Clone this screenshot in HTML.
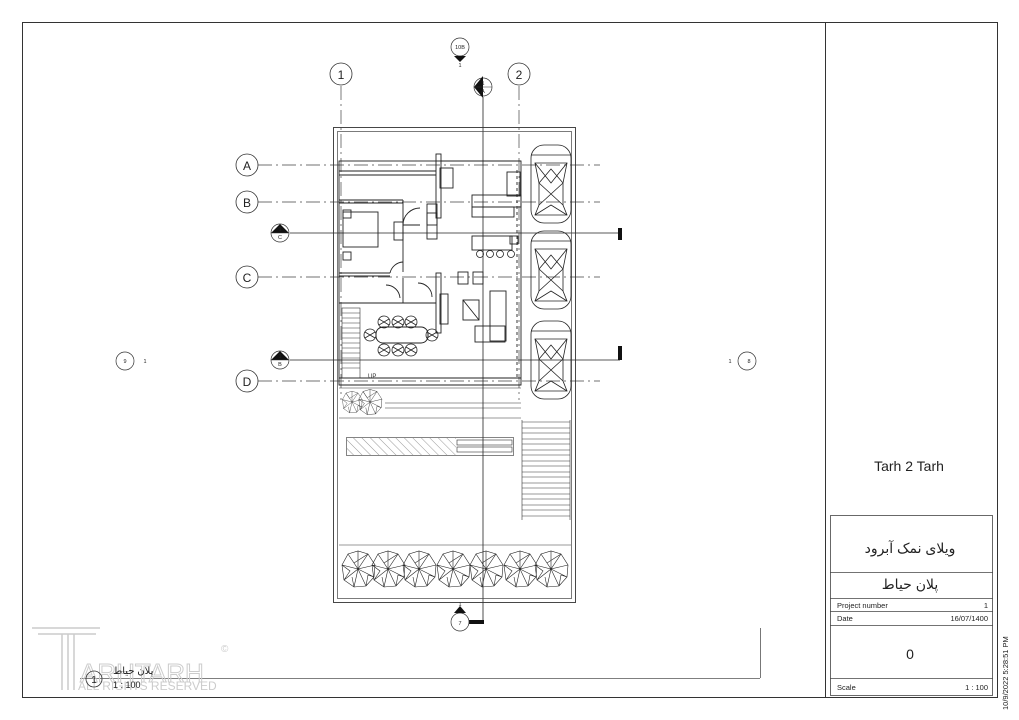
<!DOCTYPE html>
<html><head><meta charset="utf-8"><style>
html,body{margin:0;padding:0;background:#fff}
svg{display:block}
text{font-family:"Liberation Sans","DejaVu Sans",sans-serif}
</style></head><body>
<svg width="1019" height="720" viewBox="0 0 1019 720" xmlns="http://www.w3.org/2000/svg">
<defs>
<pattern id="hatch" width="6" height="6" patternUnits="userSpaceOnUse" patternTransform="rotate(-45)"><line x1="0" y1="0" x2="0" y2="6" stroke="#555" stroke-width="0.6"/></pattern>
<g id="car" fill="none" stroke="#222" stroke-width="0.8">
<rect x="0" y="0" width="40" height="78" rx="13"/>
<path d="M4 18 L36 18 L32 38 L32 60 L36 70 L4 70 L8 60 L8 38 Z"/>
<path d="M4 18 L20 38 L36 18 M8 38 L32 60 M32 38 L8 60 M4 70 L20 60 L36 70 M0 10 L40 10 M8 38 L20 24 L32 38"/>
</g>
<g id="tree" fill="none" stroke="#222" stroke-width="0.6">
<path d="M-16 -4 L-10 -15 L0 -18 L10 -15 L17 -4 L16 8 L8 17 L-4 18 L-14 11 Z"/>
<path d="M-16 -4 L0 0 L-10 -15 M0 -18 L0 0 L10 -15 M17 -4 L0 0 L16 8 M8 17 L0 0 L-4 18 M-14 11 L0 0 M-10 -15 L-4 -6 L10 -15 M-14 11 L-8 2 L-16 -4 M8 17 L10 6 L16 8 M-4 18 L-6 8"/>
</g>
<g id="chair" fill="none" stroke="#222" stroke-width="0.8"><circle r="6"/><path d="M-5 -3 L5 3 M-5 3 L5 -3"/></g>
</defs>

<!-- Sheet frame -->
<rect x="22.5" y="22.5" width="975" height="675" fill="none" stroke="#333" stroke-width="1"/>
<line x1="825.5" y1="22" x2="825.5" y2="697" stroke="#333"/>
<line x1="80" y1="678.5" x2="760" y2="678.5" stroke="#555" stroke-width="0.8"/>
<line x1="760.5" y1="628" x2="760.5" y2="678" stroke="#555" stroke-width="0.8"/>

<!-- Grid lines -->
<g stroke="#444" stroke-width="0.7" stroke-dasharray="14 4 2 4" fill="none">
<line x1="341" y1="86" x2="341" y2="400"/>
<line x1="519" y1="86" x2="519" y2="400"/>
<line x1="258" y1="165" x2="600" y2="165"/>
<line x1="258" y1="202" x2="600" y2="202"/>
<line x1="258" y1="277" x2="600" y2="277"/>
<line x1="258" y1="381" x2="600" y2="381"/>
</g>
<g fill="#fff" stroke="#333" stroke-width="0.8">
<circle cx="341" cy="74" r="11"/><circle cx="519" cy="74" r="11"/>
<circle cx="247" cy="165" r="11"/><circle cx="247" cy="202" r="11"/>
<circle cx="247" cy="277" r="11"/><circle cx="247" cy="381" r="11"/>
</g>
<g font-size="12" text-anchor="middle" fill="#222">
<text x="341" y="79">1</text><text x="519" y="79">2</text>
<text x="247" y="170">A</text><text x="247" y="207">B</text>
<text x="247" y="282">C</text><text x="247" y="386">D</text>
</g>

<!-- Section / elevation marks -->
<g stroke="#222" stroke-width="0.8" fill="none">
<line x1="483" y1="97" x2="483" y2="622"/>
<line x1="290" y1="233" x2="620" y2="233"/>
<line x1="290" y1="360" x2="620" y2="360"/>
</g>
<rect x="618" y="228" width="4" height="12" fill="#111"/>
<rect x="618" y="346" width="4" height="14" fill="#111"/>
<rect x="467" y="620" width="17" height="4" fill="#111"/>
<g fill="#fff" stroke="#333" stroke-width="0.7">
<circle cx="460" cy="47" r="9"/><circle cx="483" cy="87" r="9"/>
<circle cx="280" cy="233" r="9"/><circle cx="280" cy="360" r="9"/>
<circle cx="460" cy="622" r="9"/><circle cx="125" cy="361" r="9"/><circle cx="747" cy="361" r="9"/>
</g>
<g fill="#111">
<path d="M454 56 L466 56 L460 62 Z"/>
<path d="M474 87 L483 76 L483 98 Z"/>
<path d="M271 233 L280 224 L289 233 Z"/>
<path d="M271 360 L280 351 L289 360 Z"/>
<path d="M454 613 L460 606 L466 613 Z"/>
</g>
<g stroke="#333" stroke-width="0.5"><line x1="474" y1="87" x2="492" y2="87"/><line x1="271" y1="233" x2="289" y2="233"/><line x1="271" y1="360" x2="289" y2="360"/></g>
<g font-size="5.5" text-anchor="middle" fill="#222">
<text x="460" y="49">10B</text><text x="460" y="67">1</text>
<text x="483" y="85">1</text><text x="483" y="93">A</text>
<text x="280" y="231">1</text><text x="280" y="239">C</text>
<text x="280" y="358">1</text><text x="280" y="366">B</text>
<text x="460" y="625">7</text><text x="460" y="606">1</text>
<text x="125" y="363">9</text><text x="145" y="363">1</text>
<text x="749" y="363">8</text><text x="730" y="363">1</text>
</g>

<!-- Site boundary -->
<rect x="333.5" y="127.5" width="242" height="475" fill="none" stroke="#333" stroke-width="0.9"/>
<rect x="337.5" y="131.5" width="234" height="467" fill="none" stroke="#444" stroke-width="0.7"/>

<!-- Building -->
<g fill="none" stroke="#222" stroke-width="0.9">
<rect x="339" y="161" width="182" height="224"/>
<line x1="339" y1="171" x2="436" y2="171"/>
<line x1="339" y1="175" x2="436" y2="175"/>
<rect x="436" y="154" width="5" height="64"/>
<line x1="441" y1="161" x2="521" y2="161"/>
<rect x="440" y="168" width="13" height="20"/>
<rect x="507" y="172" width="13" height="24"/>
<rect x="472" y="195" width="49" height="12"/>
<rect x="472" y="207" width="42" height="10"/>
<line x1="339" y1="200" x2="403" y2="200"/>
<line x1="339" y1="203" x2="403" y2="203"/>
<line x1="403" y1="200" x2="403" y2="272"/>
<rect x="343" y="212" width="35" height="35"/>
<rect x="343" y="210" width="8" height="8"/><rect x="343" y="252" width="8" height="8"/>
<rect x="394" y="222" width="9" height="18"/>
<path d="M403 225 L420 225 M403 225 A17 17 0 0 1 420 208"/>
<rect x="427" y="204" width="10" height="35"/>
<rect x="427" y="213" width="10" height="12"/>
<rect x="472" y="236" width="40" height="14"/>
<rect x="510" y="236" width="8" height="8"/>
<line x1="339" y1="273" x2="390" y2="273"/>
<line x1="339" y1="276" x2="390" y2="276"/>
<path d="M390 273 A14 14 0 0 1 403 262"/>
<line x1="403" y1="278" x2="403" y2="303"/>
<line x1="403" y1="303" x2="436" y2="303"/>
<rect x="436" y="273" width="5" height="60"/>
<path d="M386 285 A14 14 0 0 1 400 298"/>
<path d="M418 283 A14 14 0 0 1 432 297"/>
<rect x="440" y="294" width="8" height="30"/>
<line x1="339" y1="303" x2="403" y2="303"/>
<rect x="463" y="300" width="16" height="20"/>
<line x1="463" y1="300" x2="479" y2="320"/>
<rect x="490" y="291" width="16" height="50"/>
<rect x="475" y="326" width="30" height="16"/>
<rect x="458" y="272" width="10" height="12"/><rect x="473" y="272" width="10" height="12"/>
<line x1="517" y1="170" x2="517" y2="380" stroke-dasharray="3 3"/>
<line x1="339" y1="378" x2="521" y2="378"/>
<line x1="339" y1="385" x2="521" y2="385"/>
</g>
<!-- stairs -->
<g stroke="#333" stroke-width="0.6">
<rect x="342" y="308" width="18" height="70" fill="none"/>
<line x1="342" y1="313" x2="360" y2="313"/><line x1="342" y1="318" x2="360" y2="318"/><line x1="342" y1="323" x2="360" y2="323"/><line x1="342" y1="328" x2="360" y2="328"/><line x1="342" y1="333" x2="360" y2="333"/><line x1="342" y1="338" x2="360" y2="338"/><line x1="342" y1="343" x2="360" y2="343"/><line x1="342" y1="348" x2="360" y2="348"/><line x1="342" y1="353" x2="360" y2="353"/><line x1="342" y1="358" x2="360" y2="358"/><line x1="342" y1="363" x2="360" y2="363"/><line x1="342" y1="368" x2="360" y2="368"/>
</g>
<text x="368" y="378" font-size="6" fill="#333">UP</text>
<!-- dining -->
<rect x="376" y="327" width="52" height="16" rx="7" fill="none" stroke="#222"/>
<use href="#chair" x="384" y="322"/><use href="#chair" x="398" y="322"/><use href="#chair" x="411" y="322"/>
<use href="#chair" x="384" y="350"/><use href="#chair" x="398" y="350"/><use href="#chair" x="411" y="350"/>
<use href="#chair" x="370" y="335"/><use href="#chair" x="432" y="335"/>
<g fill="none" stroke="#222" stroke-width="0.8"><circle cx="480" cy="254" r="3.5"/><circle cx="490" cy="254" r="3.5"/><circle cx="500" cy="254" r="3.5"/><circle cx="511" cy="254" r="3.5"/></g>

<!-- cars -->
<use href="#car" x="531" y="145"/>
<use href="#car" x="531" y="231"/>
<use href="#car" x="531" y="321"/>

<!-- yard -->
<g fill="none" stroke="#333" stroke-width="0.6">
<line x1="339" y1="388" x2="521" y2="388"/>
<line x1="385" y1="403" x2="521" y2="403"/><line x1="385" y1="408" x2="521" y2="408"/>
<line x1="339" y1="418" x2="521" y2="418"/>
<rect x="346.5" y="437.5" width="167" height="18"/>
<rect x="457" y="440" width="55" height="5"/><rect x="457" y="447" width="55" height="5"/>
<line x1="522" y1="420" x2="522" y2="520"/><line x1="570" y1="420" x2="570" y2="520"/>
<line x1="339" y1="545" x2="571" y2="545"/>
</g>
<rect x="347" y="438" width="109" height="17" fill="url(#hatch)"/>
<g stroke="#333" stroke-width="0.6">
<line x1="522" y1="422" x2="570" y2="422"/><line x1="522" y1="428" x2="570" y2="428"/><line x1="522" y1="433" x2="570" y2="433"/><line x1="522" y1="439" x2="570" y2="439"/><line x1="522" y1="444" x2="570" y2="444"/><line x1="522" y1="450" x2="570" y2="450"/><line x1="522" y1="455" x2="570" y2="455"/><line x1="522" y1="461" x2="570" y2="461"/><line x1="522" y1="466" x2="570" y2="466"/><line x1="522" y1="472" x2="570" y2="472"/><line x1="522" y1="477" x2="570" y2="477"/><line x1="522" y1="483" x2="570" y2="483"/><line x1="522" y1="488" x2="570" y2="488"/><line x1="522" y1="494" x2="570" y2="494"/><line x1="522" y1="499" x2="570" y2="499"/><line x1="522" y1="505" x2="570" y2="505"/><line x1="522" y1="510" x2="570" y2="510"/><line x1="522" y1="516" x2="570" y2="516"/>
</g>
<g transform="translate(352,402) scale(0.6)"><use href="#tree"/></g>
<g transform="translate(370,402) scale(0.7)"><use href="#tree"/></g>
<use href="#tree" x="358" y="569"/><use href="#tree" x="388" y="569"/><use href="#tree" x="419" y="569"/>
<use href="#tree" x="453" y="569"/><use href="#tree" x="486" y="569"/><use href="#tree" x="520" y="569"/><use href="#tree" x="551" y="569"/>

<!-- logo (faint) -->
<g fill="none" stroke="#ccc" stroke-width="1.5">
<path d="M32 628 L100 628 M38 634 L96 634 M62 634 L62 690 M68 634 L68 690 M74 634 L74 690"/>
</g>
<text x="80" y="682" font-size="26" fill="none" stroke="#ccc" stroke-width="1">ARHTARH</text>
<text x="78" y="690" font-size="12" fill="#ccc">ALL RIGHTS RESERVED</text>
<text x="221" y="652" font-size="10" fill="#ccc">©</text>
<circle cx="94" cy="679" r="8" fill="none" stroke="#333" stroke-width="0.8"/>
<text x="94" y="683" font-size="10" text-anchor="middle" fill="#222">1</text>
<text x="113" y="674" font-size="10" fill="#222" font-family="'DejaVu Sans',sans-serif">پلان حیاط</text>
<text x="113" y="688" font-size="9" fill="#222">1 : 100</text>

<!-- title block -->
<text x="909" y="471" font-size="14" text-anchor="middle" fill="#222">Tarh 2 Tarh</text>
<g fill="none" stroke="#444" stroke-width="0.8">
<rect x="830.5" y="515.5" width="162" height="180"/>
<line x1="830" y1="572.5" x2="993" y2="572.5"/>
<line x1="830" y1="598.5" x2="993" y2="598.5"/>
<line x1="830" y1="611.5" x2="993" y2="611.5"/>
<line x1="830" y1="625.5" x2="993" y2="625.5"/>
<line x1="830" y1="678.5" x2="993" y2="678.5"/>
</g>
<text x="910" y="553" font-size="14" text-anchor="middle" fill="#222" font-family="'DejaVu Sans',sans-serif">ویلای نمک آبرود</text>
<text x="910" y="589" font-size="14" text-anchor="middle" fill="#222" font-family="'DejaVu Sans',sans-serif">پلان حیاط</text>
<g font-size="7.5" fill="#222">
<text x="837" y="608">Project number</text><text x="988" y="608" text-anchor="end">1</text>
<text x="837" y="621">Date</text><text x="988" y="621" text-anchor="end">16/07/1400</text>
<text x="837" y="690">Scale</text><text x="988" y="690" text-anchor="end">1 : 100</text>
</g>
<text x="910" y="659" font-size="14" text-anchor="middle" fill="#222">0</text>
<text transform="translate(1008,710) rotate(-90)" font-size="7.5" fill="#222">10/9/2022 5:28:51 PM</text>
</svg>
</body></html>
